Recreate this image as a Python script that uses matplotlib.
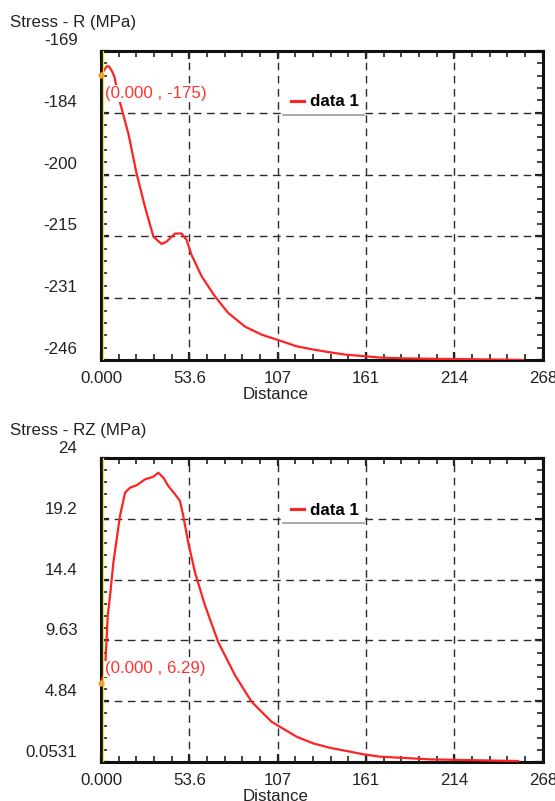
import matplotlib
matplotlib.use("Agg")
import matplotlib.pyplot as plt
from matplotlib.ticker import AutoMinorLocator
from matplotlib.transforms import ScaledTranslation, offset_copy
from matplotlib.lines import Line2D
from matplotlib.patches import Rectangle

plt.rcParams["font.family"] = ["Liberation Sans", "DejaVu Sans"]

# distance axis
x_ticks = [0.0, 53.6, 107.2, 160.8, 214.4, 268.0]
x_labels = ["0.000", "53.6", "107", "161", "214", "268"]

# Stress - R
r_x = [0.0, 2.0, 3.5, 4.9, 6.5, 8.1, 10.9, 16.6, 21.6, 26.7, 31.8, 36.8, 39.8,
       44.9, 48.9, 51.9, 54.9, 61.1, 69.2, 77.2, 87.4, 97.5, 108.6, 118.7,
       128.8, 138.9, 149.0, 161.1, 169.2, 183.4, 199.5, 219.7, 239.9, 256.1]
r_y = [-175.1, -173.7, -172.8, -172.9, -173.9, -175.4, -180.9, -189.6, -199.6,
       -207.9, -215.3, -217.1, -216.5, -214.5, -214.5, -216.1, -219.8, -225.2,
       -230.2, -234.3, -237.7, -239.7, -241.2, -242.6, -243.4, -244.1, -244.7,
       -245.1, -245.4, -245.6, -245.7, -245.8, -245.9, -246.0]
r_ticks = [-246.0, -230.6, -215.2, -199.8, -184.4, -169.0]
r_labels = ["-246", "-231", "-215", "-200", "-184", "-169"]

# Stress - RZ
rz_x = [0.0, 2.4, 4.1, 5.5, 7.5, 9.5, 11.5, 14.6, 17.6, 21.6, 26.7, 31.7, 34.7,
        37.8, 40.8, 44.9, 47.9, 49.9, 52.9, 57.0, 63.1, 71.1, 81.3, 91.4, 103.5,
        108.6, 118.7, 128.7, 138.9, 149.0, 159.1, 169.2, 181.3, 199.5, 219.7,
        240.0, 253.0]
rz_y = [6.29, 7.14, 11.6, 13.16, 15.77, 17.6, 19.44, 21.27, 21.66, 21.85, 22.32,
        22.52, 22.84, 22.45, 21.8, 21.14, 20.62, 19.44, 17.35, 14.99, 12.38, 9.5,
        6.88, 4.79, 3.22, 2.82, 2.04, 1.52, 1.17, 0.92, 0.66, 0.47, 0.39, 0.26,
        0.21, 0.16, 0.13]
rz_ticks = [0.0531, 4.8421, 9.6311, 14.42, 19.209, 23.998]
rz_labels = ["0.0531", "4.84", "9.63", "14.4", "19.2", "24"]

FS = 12.2
RED = "#ff2222"


def draw_panel(fig, rect, xs, ys, yticks, ylabels, title, note, note_dy, leg_y, lab_dy):
    ax = fig.add_axes(rect)
    ax.plot(xs, ys, color=RED, lw=1.6, zorder=3)
    # yellow cursor line just right of the left spine
    ax.plot([0, 0], [0, 1], color="#eeee00", lw=0.9, zorder=4,
            transform=offset_copy(ax.get_xaxis_transform(), fig=fig, x=2.2, units="dots"))
    ax.plot(xs[0], ys[0], "o", ms=4.5, color="#f5a030", mec="none", zorder=5, clip_on=False)
    ax.annotate(note, (xs[0], ys[0]), xytext=(4, note_dy), textcoords="offset pixels",
                color="#ff3333", fontsize=FS, va="center", ha="left", zorder=6,
                bbox=dict(facecolor="white", edgecolor="none", pad=0.5))

    ax.set_xlim(x_ticks[0], x_ticks[-1])
    ax.set_ylim(yticks[0], yticks[-1])
    ax.set_xticks(x_ticks)
    ax.set_xticklabels(x_labels)
    ax.set_yticks(yticks)
    ax.set_yticklabels(ylabels)
    ax.xaxis.set_minor_locator(AutoMinorLocator(5))
    ax.yaxis.set_minor_locator(AutoMinorLocator(5))
    ax.tick_params(which="both", direction="in", top=True, right=True,
                   labelsize=FS, colors="#222222")
    ax.tick_params(which="major", length=6, width=1.6)
    ax.tick_params(which="minor", length=4, width=1.2)
    ax.tick_params(axis="y", pad=17)
    ax.tick_params(axis="x", pad=8)
    ax.grid(True, which="major", color="#2a2a2a", lw=1.0, ls=(0, (5.5, 4)))
    for sp in ax.spines.values():
        sp.set_linewidth(2.2)
        sp.set_color("#111111")

    for lab in ax.get_yticklabels():
        lab.set_transform(lab.get_transform() +
                          ScaledTranslation(0, lab_dy / 100, fig.dpi_scale_trans))

    ax.set_xlabel("Distance", fontsize=FS, color="#222222")
    ax.xaxis.set_label_coords(0.396, -0.113)
    ax.xaxis.label.set_va("center")
    ax.text(-0.206, 1.092, title, transform=ax.transAxes, fontsize=FS,
            color="#222222", ha="left", va="center")

    # legend box with underline
    ax.add_patch(Rectangle((0.412, leg_y - 0.005), 0.183, 0.09, transform=ax.transAxes,
                           facecolor="white", edgecolor="none", zorder=2.5))
    ax.add_line(Line2D([0.412, 0.595], [leg_y, leg_y], transform=ax.transAxes,
                       color="#999999", lw=1.2, zorder=2.6))
    handle = Line2D([], [], color=RED, lw=2.2)
    ax.legend([handle], ["data 1"], loc="center left", bbox_to_anchor=(0.395, leg_y + 0.042),
              frameon=False, handlelength=0.8, handletextpad=0.35,
              prop=dict(weight="bold", size=FS))
    return ax


fig = plt.figure(figsize=(5.55, 8.01), dpi=100)
draw_panel(fig, [0.182, 0.5506, 0.796, 0.3858], r_x, r_y, r_ticks, r_labels,
           "Stress - R (MPa)", "(0.000 , -175)", -18, 0.793, 12)
draw_panel(fig, [0.182, 0.0487, 0.796, 0.3795], rz_x, rz_y, rz_ticks, rz_labels,
           "Stress - RZ (MPa)", "(0.000 , 6.29)", 14, 0.786, 11)

fig.savefig("out.png", dpi=100)
